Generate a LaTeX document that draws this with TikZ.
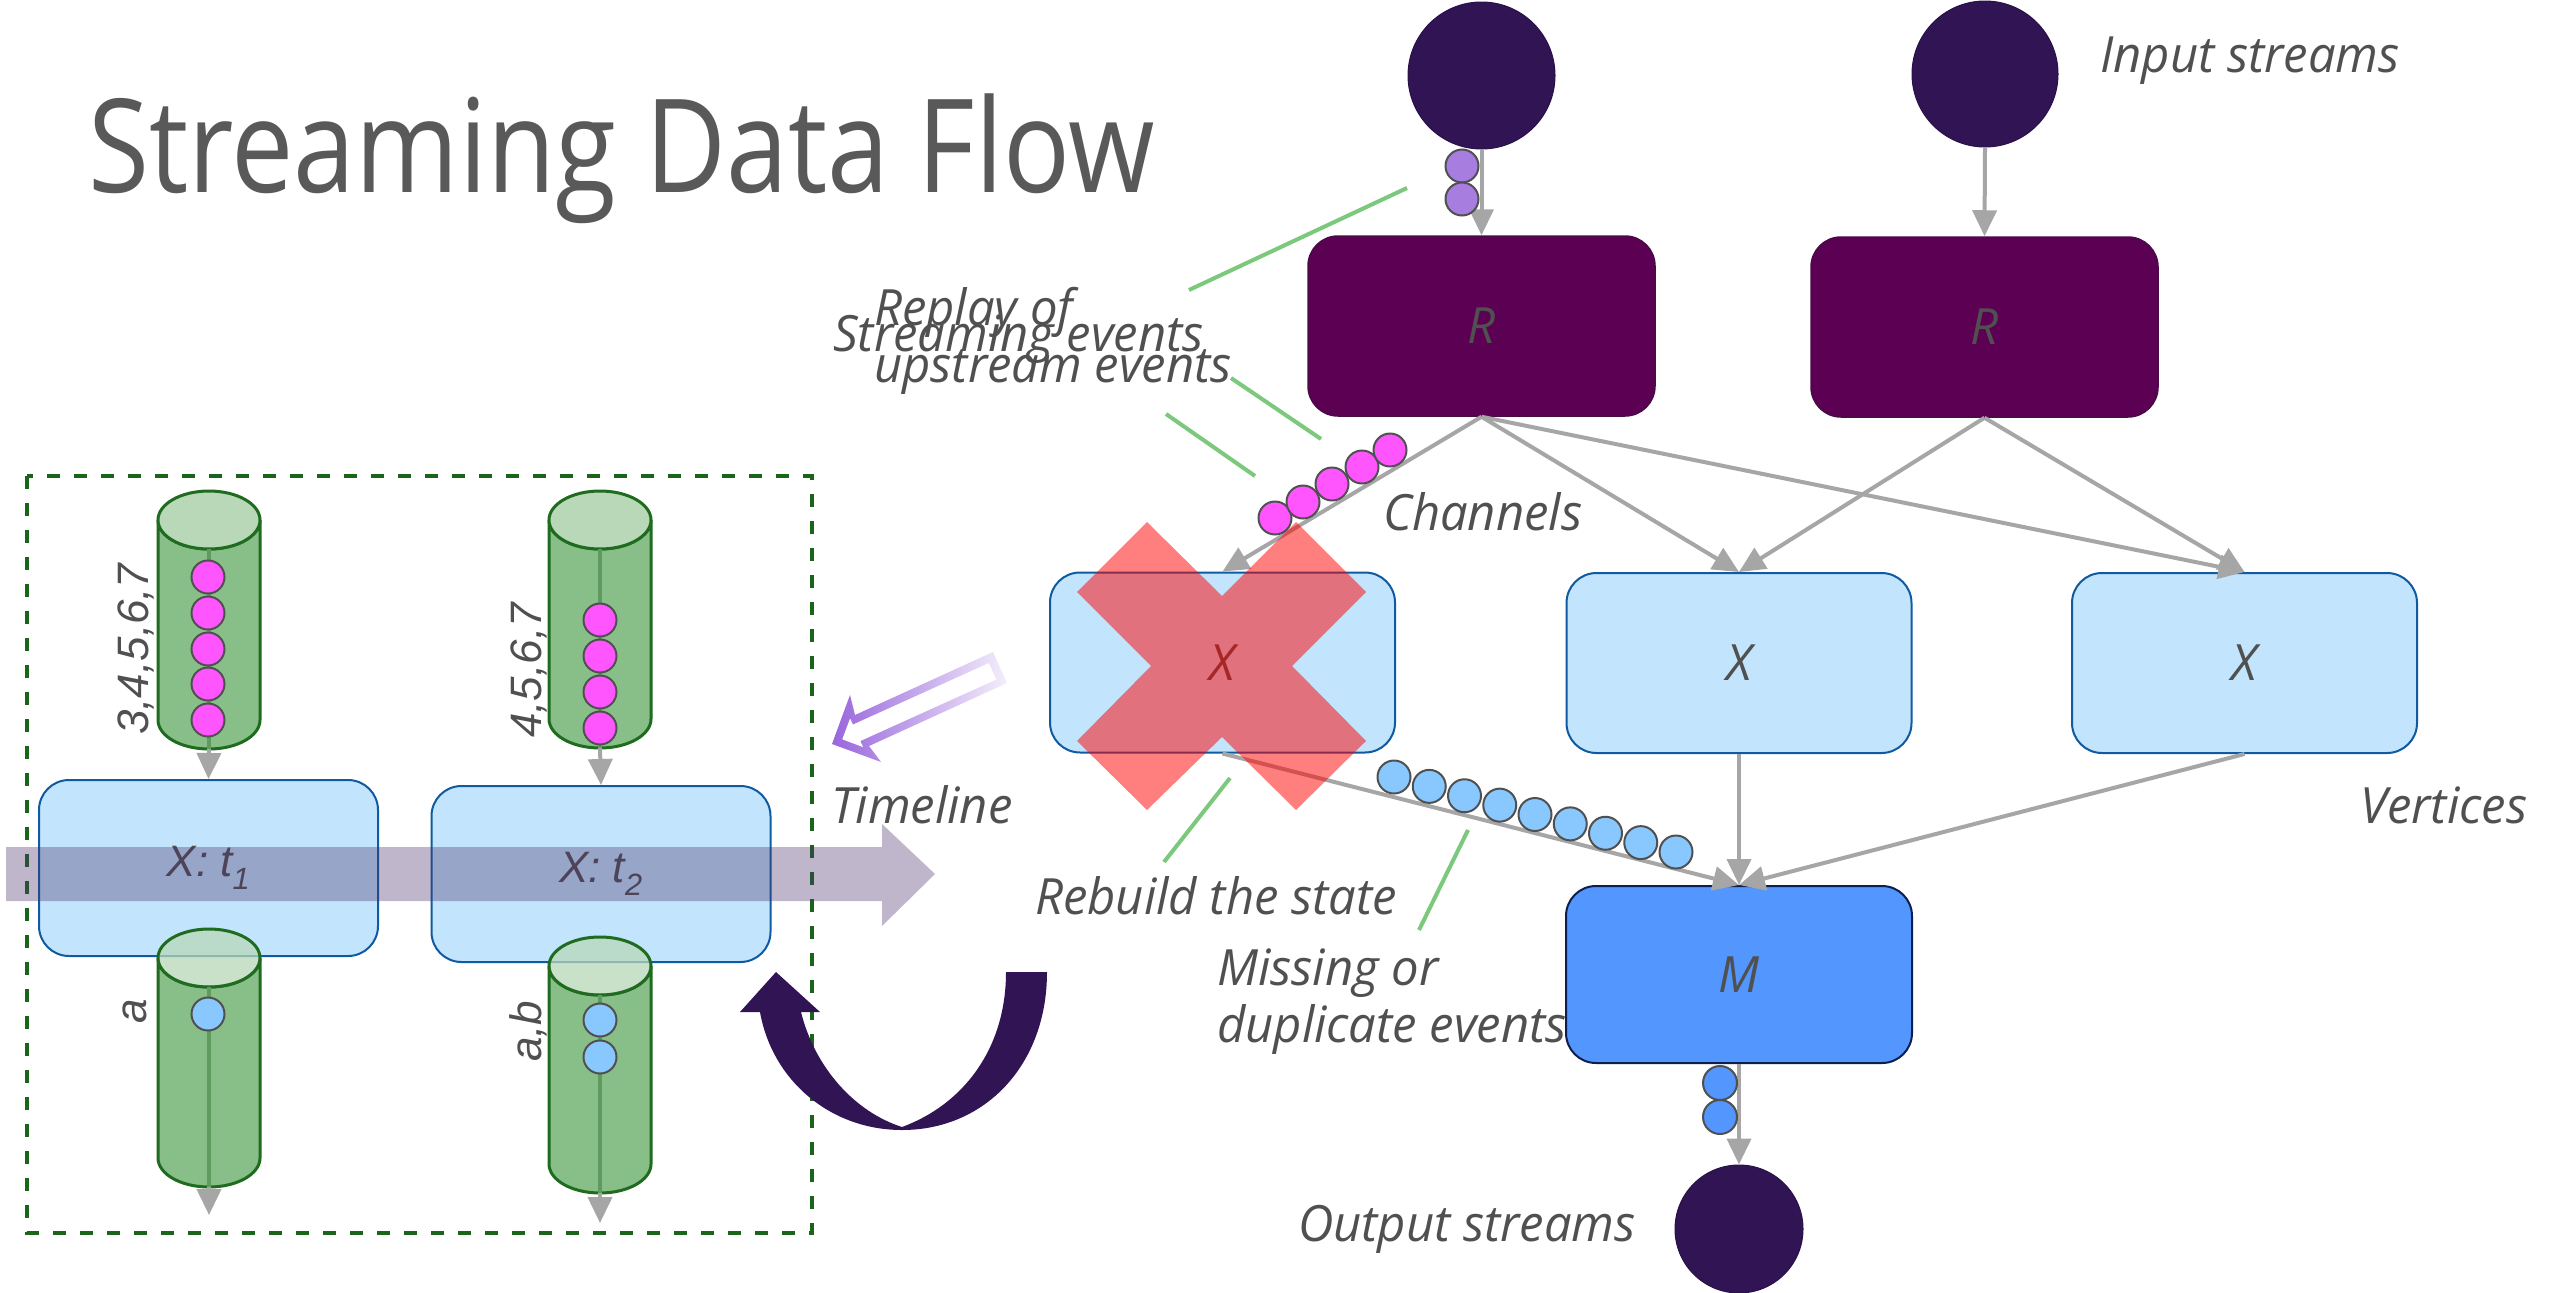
\documentclass[tikz,border=0pt]{standalone}
\usepackage{fontspec}
\setmainfont{Open Sans}
\newfontfamily\lblfont[FakeStretch=0.98]{Open Sans}
\newfontfamily\titlefont[FakeStretch=0.855]{Open Sans}
\newfontfamily\arialfont{Liberation Sans}
\usetikzlibrary{arrows.meta}

\definecolor{txtgray}{HTML}{505050}
\definecolor{titlegray}{HTML}{595959}
\definecolor{streamdark}{HTML}{301454}
\definecolor{rfill}{HTML}{5B0052}
\definecolor{rborder}{HTML}{4A0A48}
\definecolor{xfill}{HTML}{C2E4FC}
\definecolor{xborder}{HTML}{0F5AA0}
\definecolor{mfill}{HTML}{5296FE}
\definecolor{mborder}{HTML}{0D1F4E}
\definecolor{flowgray}{HTML}{A6A6A6}
\definecolor{calloutgreen}{HTML}{7CC87C}
\definecolor{lavdot}{HTML}{A77DE0}
\definecolor{pinkdot}{HTML}{FF55FF}
\definecolor{bluedot}{HTML}{88C8FF}
\definecolor{dotedge}{HTML}{505050}
\definecolor{cylbody}{HTML}{88BF88}
\definecolor{cyltop}{HTML}{B8D8B8}
\definecolor{cyledge}{HTML}{1F6B1F}
\definecolor{cylline}{HTML}{5F9A5F}
\definecolor{dashgreen}{HTML}{1B651B}
\definecolor{bandpurple}{HTML}{48306B}
\definecolor{hollowA}{HTML}{9966DD}
\definecolor{hollowB}{HTML}{F4EEFB}
\definecolor{crossred}{HTML}{FF0000}

\tikzset{
  stream/.style={circle, fill=streamdark, draw=streamdark!85!black, line width=1pt, inner sep=0},
  boxbase/.style={rectangle, rounded corners=30pt, text=txtgray,
    font=\lblfont\itshape\fontsize{50}{60}\selectfont},
  rbox/.style={boxbase, fill=rfill, draw=rborder, line width=1.5pt,
    minimum width=347pt, minimum height=180pt},
  xbox/.style={boxbase, fill=xfill, draw=xborder, line width=2pt,
    minimum width=345pt, minimum height=180pt},
  mbox/.style={boxbase, fill=mfill, draw=mborder, line width=2pt,
    minimum width=346pt, minimum height=177pt},
  tbox/.style={boxbase, fill=xfill, draw=xborder, line width=2pt,
    minimum width=339pt, minimum height=176pt,
    font=\arialfont\itshape\fontsize{44}{50}\selectfont},
  flow/.style={draw=flowgray, line width=4pt, -{Triangle[length=26pt,width=24pt]}},
  callout/.style={draw=calloutgreen, line width=4pt},
  evdot/.style={draw=dotedge, line width=2pt},
  lbl/.style={inner sep=0, text=txtgray, font=\lblfont\itshape\fontsize{50}{60}\selectfont},
  cyllbl/.style={inner sep=0, text=txtgray, rotate=90, anchor=base west,
    font=\arialfont\itshape\fontsize{44}{50}\selectfont},
  dashbox/.style={draw=dashgreen, line width=4pt, dash pattern=on 13pt off 14pt},
}

% storage cylinder: centre x, top ellipse y, bottom ellipse y, lid opacity
\newcommand\datacyl[4]{%
  \path[fill=cylbody, draw=cyledge, line width=3pt]
    (#1-51,#2) -- (#1-51,#3)
    arc[start angle=180, end angle=0, x radius=51, y radius=29]
    -- (#1+51,#2)
    arc[start angle=0, end angle=180, x radius=51, y radius=29] -- cycle;
  \path[fill=cyltop, fill opacity=#4, draw=cyledge, line width=3pt]
    (#1,#2) ellipse [x radius=51, y radius=29];
  \draw[draw=cylline, line width=4pt] (#1,#2+29) -- (#1,#3+29);
}

\begin{document}
\begin{tikzpicture}[x=1pt, y=-1pt]
\useasboundingbox (0,0) rectangle (2554,1293);
\fill[white] (0,0) rectangle (2554,1293);

% ---------------- title ----------------
\node[anchor=base west, inner sep=0, text=titlegray,
  font=\titlefont\fontsize{130}{150}\selectfont] (title) at (88,192) {Streaming Data Flow};

% ---------------- job graph ----------------
\node[stream, minimum size=147pt] (in1) at (1481.5,75.5) {};
\node[stream, minimum size=146pt] (in2) at (1985,74) {};
\node[stream, minimum size=128pt] (out) at (1739,1229) {};

\node[rbox] (r1) at (1481.5,326) {R};
\node[rbox] (r2) at (1984.5,327) {R};
\node[xbox] (x1) at (1222.5,662.5) {X};
\node[xbox] (x2) at (1739,663) {X};
\node[xbox] (x3) at (2244.5,663) {X};
\node[mbox] (m) at (1739,974.5) {M};

\draw[flow] (in1.south) -- (r1.north);
\draw[flow] (in2.south) -- (r2.north);
\draw[flow] (r1.south) -- (x1.north);
\draw[flow] (r1.south) -- (x2.north);
\draw[flow] (r1.south) -- (x3.north);
\draw[flow] (r2.south) -- (x2.north);
\draw[flow] (r2.south) -- (x3.north);
\draw[flow] (x1.south) -- (m.north);
\draw[flow] (x2.south) -- (m.north);
\draw[flow] (x3.south) -- (m.north);
\draw[flow] (m.south) -- (out.north);

% events on the channels
\foreach \y in {166,199} \draw[evdot, fill=lavdot] (1462,\y) circle (16.5);
\foreach \x/\y in {1275/518, 1303/502, 1332/484, 1362/467, 1390/450}
  \draw[evdot, fill=pinkdot] (\x,\y) circle (16.5);
\foreach \i in {0,...,8}
  \draw[evdot, fill=bluedot] ({1394+35.25*\i},{777+9.375*\i}) circle (16.5);
\foreach \y in {1083,1117} \draw[evdot, fill=mfill] (1720,\y) circle (17);

% callout lines
\coordinate (ca1) at (1189,290); \coordinate (cb1) at (1407,188);
\coordinate (ca2) at (1231,378); \coordinate (cb2) at (1321,439);
\coordinate (ca3) at (1166,414); \coordinate (cb3) at (1255,476);
\coordinate (ca4) at (1230,778); \coordinate (cb4) at (1164,862);
\coordinate (ca5) at (1468,830); \coordinate (cb5) at (1419,930);
\draw[callout] (ca1) -- (cb1);
\draw[callout] (ca2) -- (cb2);
\draw[callout] (ca3) -- (cb3);
\draw[callout] (ca4) -- (cb4);
\draw[callout] (ca5) -- (cb5);

% labels
\node[lbl, anchor=base west] (lin) at (2100,72) {Input streams};
\node[lbl, anchor=base west] (lch) at (1383,530) {Channels};
\node[lbl, anchor=base west] (lvt) at (2360,823) {Vertices};
\node[lbl, anchor=base west] (ltl) at (831,823) {Timeline};
\node[lbl, anchor=base west] (lrb) at (1035,914) {Rebuild the state};
\node[lbl, anchor=base west] (lmi) at (1217,985) {Missing or};
\node[lbl, anchor=base west] (ldu) at (1217,1042) {duplicate events};
\node[lbl, anchor=base east] (lout) at (1636,1241) {Output streams};
\node[lbl, anchor=base west] (lrp) at (874,325) {Replay of};
\node[lbl, anchor=base west] (lup) at (874,382) {upstream events};
\node[lbl, anchor=base west] (lse) at (833,351) {Streaming events};

% ---------------- recovery detail ----------------
\draw[dashbox] (27,476) rectangle (812,1233);

\datacyl{209}{520}{720}{1}
\datacyl{600}{520}{719}{1}
\foreach \y in {577,613,649,684,720} \draw[evdot, fill=pinkdot] (208,\y) circle (16.5);
\foreach \y in {620,656,692,728} \draw[evdot, fill=pinkdot] (600,\y) circle (16.5);

\node[tbox] (t1) at (208.5,868) {X: t\textsubscript{1}};
\node[tbox] (t2) at (601,874) {X: t\textsubscript{2}};

\coordinate (c1out) at (209,749);
\coordinate (c2out) at (600,748);
\draw[flow] (c1out) -- (t1.north);
\draw[flow] (c2out) -- (t2.north);

\datacyl{209}{958}{1158}{0.75}
\datacyl{600}{966}{1164}{0.75}
\draw[evdot, fill=bluedot] (208,1014) circle (16.5);
\foreach \y in {1020,1057} \draw[evdot, fill=bluedot] (600,\y) circle (16.5);
\coordinate (c3out) at (209,1187); \coordinate (c3end) at (209,1215);
\coordinate (c4out) at (600,1193); \coordinate (c4end) at (600,1223);
\draw[flow] (c3out) -- (c3end);
\draw[flow] (c4out) -- (c4end);

\node[cyllbl] (l1) at (148,735) {3,4,5,6,7};
\node[cyllbl] (l2) at (541,738) {4,5,6,7};
\node[cyllbl] (l3) at (146,1024) {a};
\node[cyllbl] (l4) at (541,1062) {a,b};

% timeline band
\fill[bandpurple, fill opacity=0.35] (6,847) -- (882,847) -- (882,824) -- (935,874)
  -- (882,926) -- (882,901) -- (6,901) -- cycle;

% hollow arrow pointing into the detail
\shade[left color=hollowA, right color=hollowB]
  (832,744) -- (850,695) -- (855,715) -- (993,652) -- (1007,683) -- (869,746) -- (881,762) -- cycle;
\fill[white]
  (842.3,739.3) -- (850.1,718.5) -- (852.9,724.6) -- (988.8,663.1) -- (996.2,679.5)
  -- (860.3,741.0) -- (863.1,747.1) -- cycle;

% curved replay arrow
\fill[streamdark] (1047,972) .. controls (1047,1065) and (985,1130) .. (902,1130)
  .. controls (830,1130) and (772,1080) .. (760,1012) -- (740,1012) -- (776,972)
  -- (820,1012) -- (801,1012) .. controls (815,1068) and (855,1112) .. (902,1127)
  .. controls (962,1105) and (1006,1050) .. (1006,972) -- cycle;

% failed vertex
\fill[crossred, fill opacity=0.5] (1077,592) -- (1147,522) -- (1222,596) -- (1296,522)
  -- (1366,592) -- (1292,666) -- (1366,741) -- (1296,810) -- (1222,737) -- (1147,810)
  -- (1077,741) -- (1151,666) -- cycle;
\end{tikzpicture}
\end{document}
